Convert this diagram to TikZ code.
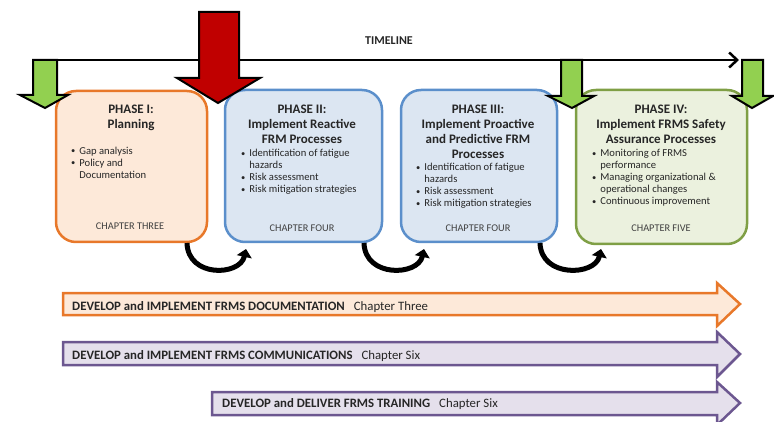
\documentclass[tikz,border=0pt]{standalone}
\usepackage{fontspec}
\setmainfont{Carlito}
\usetikzlibrary{arrows.meta}
\definecolor{orB}{HTML}{E8782A}
\definecolor{orF}{HTML}{FDE9D9}
\definecolor{blB}{HTML}{5B8FCB}
\definecolor{blF}{HTML}{DCE6F2}
\definecolor{grB}{HTML}{7F9F45}
\definecolor{grF}{HTML}{EBF1DE}
\definecolor{grA}{HTML}{92D050}
\definecolor{redA}{HTML}{C00000}
\definecolor{puB}{HTML}{6C5790}
\definecolor{puF}{HTML}{E5E0EC}
\definecolor{txt}{HTML}{262626}
\definecolor{chp}{HTML}{404040}
\newcommand{\bl}{\raisebox{0.5pt}{\scalebox{0.8}{\textbullet}}}
\begin{document}
\begin{tikzpicture}[x=1pt,y=-1pt,
  phasebox/.style={draw, line width=2.5pt, rounded corners=20pt, inner sep=0pt},
  ttl/.style={anchor=north, align=center, inner sep=0pt, text=txt, font=\fontsize{13}{15}\selectfont\bfseries},
  blt/.style={anchor=north west, inner sep=0pt, text=txt, font=\fontsize{10.6}{12}\selectfont},
  chap/.style={anchor=base, inner sep=0pt, text=chp, font=\fontsize{10.3}{11}\selectfont},
  downarrow/.style={draw=black, line width=2pt, line join=miter},
  band/.style={line width=2.5pt, line join=miter},
  bandtxt/.style={anchor=base west, inner sep=0pt, text=txt, font=\fontsize{12.8}{14}\selectfont},
  curv/.style={line width=5pt, -{Triangle[length=8pt,width=15pt]}},
]
\useasboundingbox (0,0) rectangle (774,422);

% timeline
\coordinate (tl0) at (57,60);
\coordinate (tl1) at (739,60);
\draw[line width=2.5pt, -{Straight Barb[length=8pt,width=15pt]}] (tl0) -- (tl1);
\node[inner sep=0pt, text=txt, font=\fontsize{12}{13}\selectfont\bfseries] (tlt) at (389,41) {TIMELINE};

% phase boxes
\node[phasebox, draw=orB, fill=orF, minimum width=151pt, minimum height=151pt] (b1) at (131.5,166.5) {};
\node[phasebox, draw=blB, fill=blF, minimum width=157pt, minimum height=152pt] (b2) at (303.5,166) {};
\node[phasebox, draw=blB, fill=blF, minimum width=156pt, minimum height=152pt] (b3) at (479,166) {};
\node[phasebox, draw=grB, fill=grF, minimum width=171pt, minimum height=154pt] (b4) at (661.5,167) {};

% titles
\node[ttl] (t1) at (131,105) {PHASE I:\\Planning};
\node[ttl] (t2) at (302,105) {PHASE II:\\Implement Reactive\\FRM Processes};
\node[ttl] (t3) at (478,105) {PHASE III:\\Implement Proactive\\and Predictive FRM\\Processes};
\node[ttl] (t4) at (661,105) {PHASE IV:\\Implement FRMS Safety\\Assurance Processes};

% bullets
\node[blt] (l1) at (71,145.5) {\begin{tabular}{@{}l@{\hspace{4pt}}l@{}}\bl & Gap analysis\\ \bl & Policy and\\ & Documentation\end{tabular}};
\node[blt] (l2) at (241,148) {\begin{tabular}{@{}l@{\hspace{4pt}}l@{}}\bl & Identification of fatigue\\ & hazards\\ \bl & Risk assessment\\ \bl & Risk mitigation strategies\end{tabular}};
\node[blt] (l3) at (416,162) {\begin{tabular}{@{}l@{\hspace{4pt}}l@{}}\bl & Identification of fatigue\\ & hazards\\ \bl & Risk assessment\\ \bl & Risk mitigation strategies\end{tabular}};
\node[blt] (l4) at (592,148) {\begin{tabular}{@{}l@{\hspace{4pt}}l@{}}\bl & Monitoring of FRMS\\ & performance\\ \bl & Managing organizational \&\\ & operational changes\\ \bl & Continuous improvement\end{tabular}};

% chapters
\node[chap] (c1) at (130,229.5) {CHAPTER THREE};
\node[chap] (c2) at (302,231.5) {CHAPTER FOUR};
\node[chap] (c3) at (478,231.5) {CHAPTER FOUR};
\node[chap] (c4) at (661,231.5) {CHAPTER FIVE};

% green and red down arrows
\draw[downarrow, fill=grA] (33,60) -- (57,60) -- (57,95) -- (68,95) -- (45,108) -- (20,95) -- (33,95) -- cycle;
\draw[downarrow, fill=grA] (561,60) -- (582,60) -- (582,96) -- (594,96) -- (572,108) -- (548,96) -- (561,96) -- cycle;
\draw[downarrow, fill=grA] (742,60) -- (763,60) -- (763,96) -- (773,96) -- (752,108) -- (732,96) -- (742,96) -- cycle;
\draw[downarrow, fill=redA] (199,12) -- (239,12) -- (239,78) -- (260,78) -- (218,103) -- (177,78) -- (199,78) -- cycle;

% curved arrows between phases
\coordinate (a1s) at (187,243);
\coordinate (a1e) at (246,249);
\coordinate (a2s) at (364,243);
\coordinate (a2e) at (424,249);
\coordinate (a3s) at (540,243);
\coordinate (a3e) at (601,249);
\draw[curv] (a1s) .. controls (188,278) and (240,276) .. (a1e);
\draw[curv] (a2s) .. controls (365,278) and (418,276) .. (a2e);
\draw[curv] (a3s) .. controls (541,278) and (595,276) .. (a3e);

% bands
\draw[band, draw=orB, fill=orF] (63,293) -- (717,293) -- (717,283) -- (740,304) -- (717,326) -- (717,315) -- (63,315) -- cycle;
\draw[band, draw=puB, fill=puF] (63,342) -- (717,342) -- (717,332) -- (740,354) -- (717,377) -- (717,365) -- (63,365) -- cycle;
\draw[band, draw=puB, fill=puF] (212,392) -- (717,392) -- (717,382) -- (740,403) -- (717,425) -- (717,415) -- (212,415) -- cycle;
\node[bandtxt] (d1) at (72,310) {\textbf{DEVELOP and IMPLEMENT FRMS DOCUMENTATION}\hspace{9pt}Chapter Three};
\node[bandtxt] (d2) at (72,359) {\textbf{DEVELOP and IMPLEMENT FRMS COMMUNICATIONS}\hspace{9pt}Chapter Six};
\node[bandtxt] (d3) at (222,407) {\textbf{DEVELOP and DELIVER FRMS TRAINING}\hspace{9pt}Chapter Six};
\end{tikzpicture}
\end{document}
